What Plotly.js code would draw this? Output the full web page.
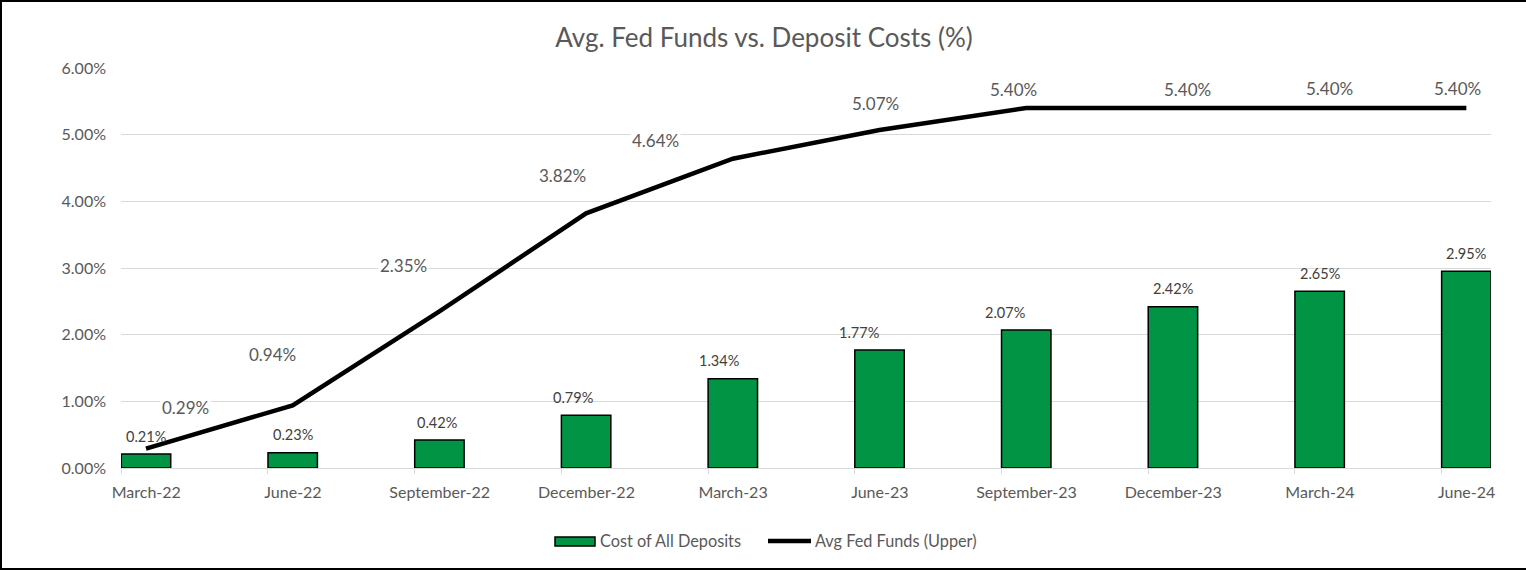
<!DOCTYPE html>
<html>
<head>
<meta charset="utf-8">
<script src="https://cdn.plot.ly/plotly-3.0.1.min.js"></script>
<style>
  html, body { margin: 0; padding: 0; background: #fff; }
  #wrap { width: 1526px; height: 570px; box-sizing: border-box;
          border-left: 2px solid #000; border-top: 2px solid #000; border-bottom: 2px solid #000; }
  #chart { width: 1524px; height: 566px; }
</style>
</head>
<body>
<div id="wrap"><div id="chart"></div></div>
<script>
// ---- data ----
const categories = ["March-22", "June-22", "September-22", "December-22", "March-23",
                    "June-23", "September-23", "December-23", "March-24", "June-24"];
const depositCosts = [0.21, 0.23, 0.42, 0.79, 1.34, 1.77, 2.07, 2.42, 2.65, 2.95];
const fedFunds = [0.29, 0.94, 2.35, 3.82, 4.64, 5.07, 5.40, 5.40, 5.40, 5.40];
const yTicks = [0, 1, 2, 3, 4, 5, 6];

// ---- label placement (pixel offsets, styling only) ----
const lineLabelDx = [39, -20, -36, -24, -77, -4, -13, 15, 10, -9];
const lineLabelDy = [41, 51, 46, 38, 18, 27, 19, 19, 20, 20];
const barLabelDx  = [0, 0, -2, -13, -14, -21, -21, 0, 0, 0];

const idx = categories.map((c, i) => i);
const barW = 0.337;
const grey = "#595959";
const font = "Lato, 'Open Sans', sans-serif";

const bars = {
  type: "bar", name: "Cost of All Deposits", x: idx, y: depositCosts,
  width: barW, marker: { color: "#009444", line: { color: "#000", width: 1.5 } },
  hoverinfo: "skip", showlegend: false
};
const line = {
  type: "scatter", mode: "lines", name: "Avg Fed Funds (Upper)", x: idx, y: fedFunds,
  line: { color: "#000", width: 4.5 }, hoverinfo: "skip", showlegend: false
};

const annotations = [];
fedFunds.forEach((v, i) => annotations.push({
  x: idx[i], y: v, xref: "x", yref: "y", text: v.toFixed(2) + "%", showarrow: false,
  xshift: lineLabelDx[i], yshift: lineLabelDy[i], bgcolor: "#fff",
  font: { family: font, size: 17, color: grey }
}));
depositCosts.forEach((v, i) => annotations.push({
  x: idx[i], y: v, xref: "x", yref: "y", text: v.toFixed(2) + "%", showarrow: false,
  xshift: barLabelDx[i], yshift: 18,
  font: { family: font, size: 14.5, color: "#404040" }
}));

// custom legend (text as real text)
annotations.push({ xref: "paper", yref: "paper", x: (598 - 121) / 1370, y: -(540 - 468) / 400,
  xanchor: "left", yanchor: "middle", showarrow: false, text: bars.name,
  font: { family: font, size: 16.3, color: grey } });
annotations.push({ xref: "paper", yref: "paper", x: (813 - 121) / 1370, y: -(540 - 468) / 400,
  xanchor: "left", yanchor: "middle", showarrow: false, text: line.name,
  font: { family: font, size: 16.3, color: grey } });

const shapes = [
  { type: "rect", xref: "paper", yref: "paper",
    x0: (555 - 121) / 1370, x1: (595 - 121) / 1370,
    y0: -(546 - 468) / 400, y1: -(537 - 468) / 400,
    fillcolor: "#009444", line: { color: "#000", width: 1.5 } },
  { type: "line", xref: "paper", yref: "paper",
    x0: (768 - 121) / 1370, x1: (811 - 121) / 1370,
    y0: -(541 - 468) / 400, y1: -(541 - 468) / 400,
    line: { color: "#000", width: 4.5 } }
];

const layout = {
  width: 1524, height: 566,
  margin: { l: 119, r: 35, t: 66, b: 100 },
  paper_bgcolor: "#fff", plot_bgcolor: "#fff",
  title: { text: "Avg. Fed Funds vs. Deposit Costs (%)", x: 0.5, xanchor: "center",
           yref: "container", y: 1 - 36 / 566, yanchor: "middle",
           font: { family: font, size: 26, color: grey } },
  xaxis: {
    type: "linear", range: [-0.1704, 9.168], tickmode: "array",
    tickvals: idx.map(i => i - barW / 2), ticktext: categories,
    ticklabelshift: 25, ticklabelstandoff: 5, ticks: "outside", ticklen: 5, tickcolor: "#d9d9d9",
    showgrid: false, zeroline: false, showline: true, linecolor: "#d9d9d9", linewidth: 1,
    tickfont: { family: font, size: 16, color: grey }, fixedrange: true
  },
  yaxis: {
    range: [0, 6], tickmode: "array", tickvals: yTicks,
    ticktext: yTicks.map(t => t.toFixed(2) + "%"),
    showgrid: true, gridcolor: "#d9d9d9", gridwidth: 1, zeroline: false, showline: false,
    ticks: "", ticklabelstandoff: 14,
    tickfont: { family: font, size: 16, color: grey }, fixedrange: true
  },
  bargap: 0, annotations: annotations, shapes: shapes, showlegend: false
};

Plotly.newPlot("chart", [bars, line], layout, { displayModeBar: false, staticPlot: true });
</script>
</body>
</html>
